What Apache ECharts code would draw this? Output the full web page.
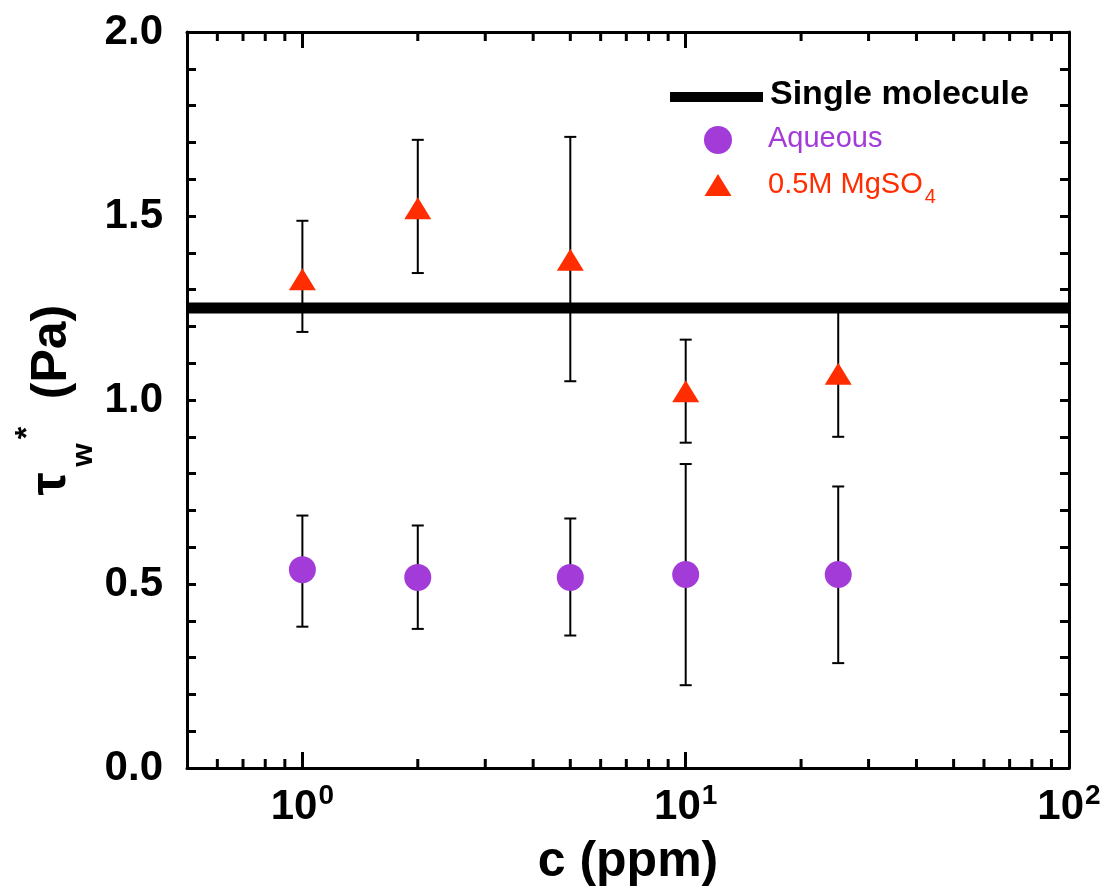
<!DOCTYPE html>
<html>
<head>
<meta charset="utf-8">
<script src="https://cdn.jsdelivr.net/npm/echarts@6/dist/echarts.min.js"></script>
<style>
html,body{margin:0;padding:0;background:#fff;}
#chart{width:1114px;height:892px;}
</style>
</head>
<body>
<div id="chart"></div>
<script>
// ---- data ----
const concentrations = [1, 2, 5, 10, 25];
const aqueousMean  = [0.539, 0.518, 0.518, 0.526, 0.526];
const aqueousLow   = [0.384, 0.378, 0.360, 0.225, 0.285];
const aqueousHigh  = [0.686, 0.659, 0.678, 0.826, 0.765];
const mgso4Mean    = [1.328, 1.521, 1.381, 1.024, 1.071];
const mgso4Low     = [1.185, 1.345, 1.051, 0.884, 0.900];
const mgso4High    = [1.487, 1.707, 1.715, 1.164, 1.241];
const singleMolecule = 1.25;
const xRange = [0.5, 100];
const yRange = [0, 2];
const yTickStep = 0.5;
const xMinorTicks = [0.6, 0.7, 0.8, 0.9, 2, 3, 4, 5, 6, 7, 8, 9, 20, 30, 40, 50, 60, 70, 80, 90];

const PURPLE = '#A33BD9';
const RED = '#FF2D00';
const FONT = 'Liberation Sans, Arial, Helvetica, sans-serif';

const chart = echarts.init(document.getElementById('chart'), null, {renderer: 'canvas'});

function errData(lo, hi) {
  return concentrations.map((c, i) => [c, lo[i], hi[i]]);
}
function errRender(params, api) {
  const x = api.value(0);
  const pLo = api.coord([x, api.value(1)]);
  const pHi = api.coord([x, api.value(2)]);
  const hw = 6;
  const st = {stroke: '#000', lineWidth: 2};
  return {
    type: 'group',
    children: [
      {type: 'line', shape: {x1: pLo[0], y1: pLo[1], x2: pHi[0], y2: pHi[1]}, style: st},
      {type: 'line', shape: {x1: pLo[0] - hw, y1: pLo[1], x2: pLo[0] + hw, y2: pLo[1]}, style: st},
      {type: 'line', shape: {x1: pHi[0] - hw, y1: pHi[1], x2: pHi[0] + hw, y2: pHi[1]}, style: st}
    ]
  };
}
function minorTickRender(params, api) {
  const v = api.value(0);
  const b = api.coord([v, yRange[0]]);
  const t = api.coord([v, yRange[1]]);
  const len = 9;
  const st = {stroke: '#000', lineWidth: 3};
  return {
    type: 'group',
    children: [
      {type: 'line', shape: {x1: b[0], y1: b[1], x2: b[0], y2: b[1] - len}, style: st},
      {type: 'line', shape: {x1: t[0], y1: t[1], x2: t[0], y2: t[1] + len}, style: st}
    ]
  };
}

const xLabelFmt = function (v) {
  const e = Math.round(Math.log10(v));
  if (Math.abs(Math.log10(v) - e) > 1e-6) return '';
  return '{b|10}{s|' + e + '}';
};

const yAxisBase = {
  type: 'value', min: yRange[0], max: yRange[1], interval: yTickStep,
  axisLine: {show: true, onZero: false, lineStyle: {color: '#000', width: 3}},
  axisTick: {show: true, inside: true, length: 9, lineStyle: {color: '#000', width: 3}},
  minorTick: {show: true, splitNumber: 5, length: 9, lineStyle: {color: '#000', width: 3}},
  splitLine: {show: false}, minorSplitLine: {show: false}
};
const xAxisBase = {
  type: 'log', logBase: 10, min: xRange[0], max: xRange[1],
  axisLine: {show: true, onZero: false, lineStyle: {color: '#000', width: 3}},
  axisTick: {show: true, inside: true, length: 16, lineStyle: {color: '#000', width: 3}},
  splitLine: {show: false}, minorSplitLine: {show: false}
};

const titleFont = 'bold 50px ' + FONT;

const option = {
  backgroundColor: '#fff',
  animation: false,
  grid: {left: 187, right: 45, top: 32, bottom: 124, containLabel: false, outerBoundsMode: 'none'},
  xAxis: [
    Object.assign({}, xAxisBase, {
      position: 'bottom',
      axisLabel: {
        show: true, margin: 14, formatter: xLabelFmt,
        rich: {
          b: {fontFamily: FONT, fontSize: 42, fontWeight: 'bold', color: '#000', verticalAlign: 'bottom', lineHeight: 46},
          s: {fontFamily: FONT, fontSize: 28, fontWeight: 'bold', color: '#000', verticalAlign: 'top', padding: [0, 0, 22, 1], lineHeight: 46}
        }
      },
      name: 'c (ppm)', nameLocation: 'middle', nameGap: 64,
      nameTextStyle: {fontFamily: FONT, fontSize: 50, fontWeight: 'bold', color: '#000'}
    }),
    Object.assign({}, xAxisBase, {position: 'top', axisLabel: {show: false}})
  ],
  yAxis: [
    Object.assign({}, yAxisBase, {
      position: 'left',
      axisLabel: {show: true, margin: 24, fontFamily: FONT, fontSize: 42, fontWeight: 'bold', color: '#000',
        formatter: v => v.toFixed(1)}
    }),
    Object.assign({}, yAxisBase, {position: 'right', axisLabel: {show: false}})
  ],
  series: [
    {
      type: 'custom', name: 'minorTicks', xAxisIndex: 0, yAxisIndex: 0,
      data: xMinorTicks.map(v => [v]), renderItem: minorTickRender, clip: false, silent: true, z: 5
    },
    {
      type: 'custom', name: 'errAq', data: errData(aqueousLow, aqueousHigh),
      renderItem: errRender, z: 2, silent: true
    },
    {
      type: 'custom', name: 'errMg', data: errData(mgso4Low, mgso4High),
      renderItem: errRender, z: 2, silent: true
    },
    {
      type: 'line', name: 'Single molecule',
      data: [[xRange[0], singleMolecule], [xRange[1], singleMolecule]],
      symbol: 'none', lineStyle: {color: '#000', width: 11}, z: 3, silent: true
    },
    {
      type: 'scatter', name: 'Aqueous',
      data: concentrations.map((c, i) => [c, aqueousMean[i]]),
      symbol: 'circle', symbolSize: 27, itemStyle: {color: PURPLE, opacity: 1}, z: 4
    },
    {
      type: 'scatter', name: '0.5M MgSO4',
      data: concentrations.map((c, i) => [c, mgso4Mean[i]]),
      symbol: 'triangle', symbolSize: [27, 22], itemStyle: {color: RED, opacity: 1}, z: 4
    }
  ],
  graphic: [
    // legend
    {type: 'rect', left: 670, top: 92, shape: {width: 93, height: 10}, style: {fill: '#000'}},
    {type: 'text', left: 770, top: 78, style: {text: 'Single molecule', font: 'bold 34px ' + FONT, fill: '#000'}},
    {type: 'circle', shape: {cx: 718, cy: 140, r: 14}, style: {fill: PURPLE}},
    {type: 'text', left: 768, top: 124, style: {text: 'Aqueous', font: '29px ' + FONT, fill: PURPLE}},
    {type: 'polygon', shape: {points: [[718, 174], [731.5, 196], [704.5, 196]]}, style: {fill: RED}},
    {type: 'text', left: 768, top: 170, style: {
      text: '{a|0.5M MgSO}{b|4}',
      rich: {
        a: {font: '29px ' + FONT, fill: RED, color: RED},
        b: {font: '20px ' + FONT, fill: RED, color: RED, padding: [26, 0, 0, 2]}
      }
    }},
    // y axis title pieces (rotated, reading bottom to top)
    {type: 'text', x: 51, y: 484, rotation: Math.PI / 2,
      style: {text: 'τ', font: 'bold 52px ' + FONT, fill: '#000', align: 'center', verticalAlign: 'middle'}},
    {type: 'text', x: 84, y: 455, rotation: Math.PI / 2,
      style: {text: 'w', font: 'bold 30px ' + FONT, fill: '#000', align: 'center', verticalAlign: 'middle'}},
    {type: 'text', x: 28, y: 433, rotation: Math.PI / 2,
      style: {text: '*', font: 'bold 32px ' + FONT, fill: '#000', align: 'center', verticalAlign: 'middle'}},
    {type: 'text', x: 52, y: 352, rotation: Math.PI / 2,
      style: {text: '(Pa)', font: titleFont, fill: '#000', align: 'center', verticalAlign: 'middle'}}
  ]
};
chart.setOption(option);
</script>
</body>
</html>
